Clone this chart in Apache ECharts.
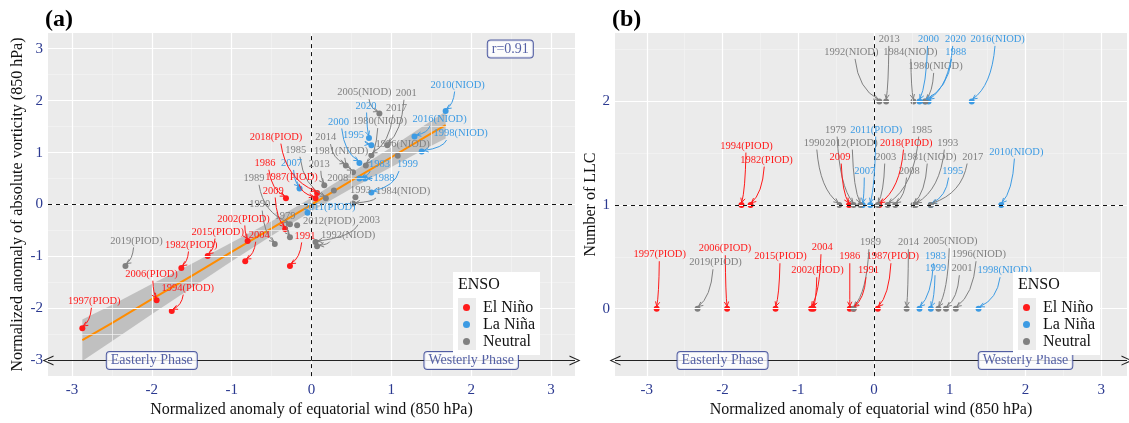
<!DOCTYPE html>
<html>
<head>
<meta charset="utf-8">
<script src="https://cdn.jsdelivr.net/npm/echarts@6/dist/echarts.min.js"></script>
<style>
  html, body { margin: 0; background: #fff; }
  #chart { width: 1129px; height: 423px; }
</style>
</head>
<body>
<div id="chart"></div>
<script>
// ---- data ----
const years = [1979, 1980, 1981, 1982, 1983, 1984, 1985, 1986, 1987, 1988,
  1989, 1990, 1991, 1992, 1993, 1994, 1995, 1996, 1997, 1998,
  1999, 2000, 2001, 2002, 2003, 2004, 2005, 2006, 2007, 2008,
  2009, 2010, 2011, 2012, 2013, 2014, 2015, 2016, 2017, 2018, 2019, 2020]
// normalized anomaly of equatorial wind (x in both panels)
const windX = [-0.27, 0.68, 0.52, -1.63, 0.60, 0.52, 0.18, -0.32, 0.05, 0.67,
  -0.27, -0.46, -0.27, 0.07, 0.55, -1.75, 0.75, 1.08, -2.87, 1.38,
  0.75, 0.60, 0.95, -0.80, 0.05, -0.83, 0.85, -1.94, -0.15, 0.28,
  -0.33, 1.68, -0.05, -0.18, 0.16, 0.43, -1.30, 1.29, 0.75, 0.07, -2.33, 0.72]
// normalized anomaly of absolute vorticity (panel a)
const vortY = [-0.63, 0.75, 0.62, -1.22, 0.50, 0.02, 0.12, 0.12, 0.12, 0.50,
  -0.38, -0.76, -1.18, -0.80, 0.14, -2.05, 1.14, 0.94, -2.38, 1.02,
  0.23, 0.80, 1.14, -0.70, -0.72, -1.09, 1.75, -1.84, 0.31, 0.27,
  -0.47, 1.80, -0.16, -0.40, 0.37, 0.75, -0.99, 1.31, 0.95, 0.22, -1.18, 1.28]
// number of LLC (panel b)
const llcCount = [1, 2, 1, 1, 0, 2, 1, 0, 0, 2,
  0, 1, 0, 2, 1, 1, 1, 0, 0, 0,
  0, 2, 0, 0, 1, 0, 0, 0, 1, 1,
  1, 1, 1, 1, 2, 0, 0, 2, 1, 1, 0, 2]
const ensoPhase = ['Neutral', 'Neutral', 'Neutral', 'El Niño', 'La Niña', 'Neutral', 'Neutral', 'El Niño', 'El Niño', 'La Niña',
  'Neutral', 'Neutral', 'El Niño', 'Neutral', 'Neutral', 'El Niño', 'La Niña', 'Neutral', 'El Niño', 'La Niña',
  'La Niña', 'La Niña', 'Neutral', 'El Niño', 'Neutral', 'El Niño', 'Neutral', 'El Niño', 'La Niña', 'Neutral',
  'El Niño', 'La Niña', 'La Niña', 'Neutral', 'Neutral', 'Neutral', 'El Niño', 'La Niña', 'Neutral', 'El Niño', 'Neutral', 'La Niña']
const iodPhase = ['', 'NIOD', 'NIOD', 'PIOD', '', 'NIOD', '', '', 'PIOD', '',
  '', '', '', 'NIOD', '', 'PIOD', '', 'NIOD', 'PIOD', 'NIOD',
  '', '', '', 'PIOD', '', '', 'NIOD', 'PIOD', '', '',
  '', 'NIOD', 'PIOD', 'PIOD', '', '', 'PIOD', 'NIOD', '', 'PIOD', 'PIOD', '']
const ensoNames = ['El Niño', 'La Niña', 'Neutral']

// fitted line and its confidence band (panel a)
const fitX = [-2.87, -2.5, -2, -1.5, -1, -0.5, 0, 0.5, 1, 1.5, 1.68]
const fitY = [-2.61, -2.28, -1.82, -1.37, -0.91, -0.46, 0, 0.46, 0.91, 1.37, 1.53]
const bandLo = [-3.01, -2.63, -2.11, -1.6, -1.09, -0.6, -0.13, 0.31, 0.72, 1.13, 1.27]
const bandHi = [-2.21, -1.93, -1.53, -1.14, -0.73, -0.32, 0.13, 0.61, 1.1, 1.61, 1.79]

const ticksX = [-3, -2, -1, 0, 1, 2, 3]
const ticksYa = [-3, -2, -1, 0, 1, 2, 3]
const ticksYb = [0, 1, 2]

// ---- layout (label offsets in px from each point) ----
const offA = {
  1979: [-5, -21], 1980: [14, -44], 1981: [-12, -21], 1982: [10, -23], 1983: [20, -14],
  1984: [50, -12], 1985: [-30, -48], 1986: [-21, -35], 1987: [-24, -21], 1988: [19, 0],
  1989: [-36, -46], 1990: [-15, -40], 1991: [15, -30], 1992: [31, -11], 1993: [5, -7],
  1994: [16, -23], 1995: [-18, -10], 1996: [5, -11], 1997: [12, -27], 1998: [39, -18],
  1999: [36, -28], 2000: [-21, -41], 2001: [19, -52], 2002: [-4, -22], 2003: [54, -22],
  2004: [14, -26], 2005: [-15, -21], 2006: [-5, -26], 2007: [-8, -25], 2008: [4, -12],
  2009: [-12, -38], 2010: [12, -26], 2011: [22, -6], 2012: [32, -4], 2013: [-5, -21],
  2014: [-20, -28], 2015: [10, -24], 2016: [25, -17], 2017: [25, -47], 2018: [-41, -56],
  2019: [11, -25], 2020: [-3, -32]
}
const offB = {
  1979: [-18, -75], 1980: [10, -35], 1981: [16, -48], 1982: [16, -45], 1983: [16, -52],
  1984: [-3, -49], 1985: [34, -75], 1986: [0, -52], 1987: [15, -52], 1988: [31, -49],
  1989: [17, -66], 1990: [-25, -62], 1991: [15, -38], 1992: [-28, -49], 1993: [32, -62],
  1994: [5, -59], 1995: [22, -34], 1996: [23, -54], 1997: [3, -54], 1998: [26, -38],
  1999: [5, -40], 2000: [9, -62], 2001: [16, -40], 2002: [4, -38], 2003: [8, -48],
  2004: [11, -61], 2005: [12, -67], 2006: [-2, -60], 2007: [2, -34], 2008: [14, -34],
  2009: [-9, -48], 2010: [15, -53], 2011: [6, -75], 2012: [-9, -62], 2013: [3, -62],
  2014: [2, -66], 2015: [5, -52], 2016: [26, -62], 2017: [42, -48], 2018: [27, -62],
  2019: [18, -46], 2020: [27, -62]
}

const serif = '"Liberation Serif", "DejaVu Serif", serif'
const navy = '#2B3990'
const colors = { 'El Niño': '#FF1A1A', 'La Niña': '#3D9BE3', 'Neutral': '#808080' }
const labelText = years.map((y, i) => iodPhase[i] ? y + '(' + iodPhase[i] + ')' : String(y))
const labelFont = '10.5px ' + serif

const measureCtx = document.createElement('canvas').getContext('2d')
measureCtx.font = labelFont
const textWidth = (s) => measureCtx.measureText(s).width

const chevron = 'path://M0,12 L6,0 L12,12 L10.6,12 L6,2.6 L1.4,12 Z'

const gridLines = (gi, xMajor, xMinor, yMajor, yMinor) => {
  const lines = []
  xMinor.forEach((v) => lines.push({ xAxis: v, lineStyle: { color: '#F4F4F4', width: 0.7, type: 'solid' } }))
  yMinor.forEach((v) => lines.push({ yAxis: v, lineStyle: { color: '#F4F4F4', width: 0.7, type: 'solid' } }))
  xMajor.forEach((v) => lines.push({ xAxis: v, lineStyle: { color: '#FFFFFF', width: 1.2, type: 'solid' } }))
  yMajor.forEach((v) => lines.push({ yAxis: v, lineStyle: { color: '#FFFFFF', width: 1.2, type: 'solid' } }))
  return {
    type: 'line', xAxisIndex: gi, yAxisIndex: gi, z: 1, silent: true,
    data: [[0, 0]], symbol: 'none', lineStyle: { width: 0 },
    markLine: { silent: true, symbol: 'none', label: { show: false }, data: lines },
  }
}

const refLines = (gi, xv, yv) => ({
  type: 'line', xAxisIndex: gi, yAxisIndex: gi, z: 3, silent: true,
  data: [[0, 0]], symbol: 'none', lineStyle: { width: 0 },
  markLine: {
    silent: true, symbol: 'none', label: { show: false },
    lineStyle: { color: '#111', width: 1, type: [4, 4] },
    data: [{ xAxis: xv }, { yAxis: yv }],
  },
})

const phaseArrow = (gi, yv) => ({
  type: 'line', xAxisIndex: gi, yAxisIndex: gi, z: 3, silent: true,
  data: [[0, yv]], symbol: 'none', lineStyle: { width: 0 },
  markLine: {
    silent: true, symbol: [chevron, chevron], symbolSize: [10, 11],
    label: { show: false },
    lineStyle: { color: '#222', width: 1, type: 'solid' },
    data: [{ yAxis: yv }],
  },
})

const boxLabel = (gi, items) => ({
  type: 'scatter', xAxisIndex: gi, yAxisIndex: gi, z: 6, silent: true,
  symbolSize: 1, itemStyle: { color: 'rgba(0,0,0,0)' },
  data: items,
  label: {
    show: true, position: 'inside', formatter: '{b}',
    color: navy, fontFamily: serif, fontSize: 14,
    backgroundColor: '#fff', borderColor: navy, borderWidth: 1, borderRadius: 3,
    padding: [2, 4, 1, 4],
  },
})

const pointSeries = (gi, yVals) => ensoNames.map((name) => ({
  name, type: 'scatter', xAxisIndex: gi, yAxisIndex: gi, z: 4,
  symbolSize: 6, itemStyle: { color: colors[name], opacity: 1 },
  data: years.map((y, i) => [windX[i], yVals[i]]).filter((d, i) => ensoPhase[i] === name),
}))

const labelSeries = (gi, yVals, offs) => ({
  type: 'custom', xAxisIndex: gi, yAxisIndex: gi, z: 5, silent: true,
  data: years.map((y, i) => [windX[i], yVals[i], i]),
  encode: { x: 0, y: 1 },
  renderItem: (params, api) => {
    const i = api.value(2)
    const p = api.coord([api.value(0), api.value(1)])
    const o = offs[years[i]]
    const txt = labelText[i]
    const col = colors[ensoPhase[i]]
    const L = [p[0] + o[0], p[1] + o[1]]
    const hw = textWidth(txt) / 2 + 1
    const hh = 6.5
    const dx = p[0] - L[0]
    const dy = p[1] - L[1]
    const dist = Math.hypot(dx, dy)
    const t = Math.min(dx ? hw / Math.abs(dx) : Infinity, dy ? hh / Math.abs(dy) : Infinity)
    const children = []
    if (t < 1 && dist * (1 - t) > 7) {
      const s = [L[0] + t * dx, L[1] + t * dy]
      const e = [p[0] - 2.5 * dx / dist, p[1] - 2.5 * dy / dist]
      const c = [s[0] + 0.15 * (e[0] - s[0]), s[1] + 0.75 * (e[1] - s[1])]
      let ux = e[0] - c[0]
      let uy = e[1] - c[1]
      const ul = Math.hypot(ux, uy) || 1
      ux /= ul; uy /= ul
      const a = 0.45
      const hl = 5
      const h1 = [e[0] - hl * (ux * Math.cos(a) - uy * Math.sin(a)), e[1] - hl * (ux * Math.sin(a) + uy * Math.cos(a))]
      const h2 = [e[0] - hl * (ux * Math.cos(a) + uy * Math.sin(a)), e[1] - hl * (-ux * Math.sin(a) + uy * Math.cos(a))]
      children.push({
        type: 'bezierCurve',
        shape: { x1: s[0], y1: s[1], x2: e[0], y2: e[1], cpx1: c[0], cpy1: c[1] },
        style: { stroke: col, fill: 'none', lineWidth: 1 },
      })
      children.push({
        type: 'polyline', shape: { points: [h1, e, h2] },
        style: { stroke: col, fill: 'none', lineWidth: 1 },
      })
    }
    children.push({
      type: 'text', x: L[0], y: L[1],
      style: { text: txt, fill: col, font: labelFont, align: 'center', verticalAlign: 'middle' },
    })
    return { type: 'group', children }
  },
})

const bandSeries = {
  type: 'custom', xAxisIndex: 0, yAxisIndex: 0, z: 2, silent: true,
  data: [[0, 0]],
  renderItem: (params, api) => {
    const pts = fitX.map((x, k) => api.coord([x, bandHi[k]]))
    for (let k = fitX.length - 1; k >= 0; k--) pts.push(api.coord([fitX[k], bandLo[k]]))
    return { type: 'polygon', shape: { points: pts }, style: { fill: 'rgba(150,150,150,0.5)' } }
  },
}

const fitSeries = {
  type: 'line', xAxisIndex: 0, yAxisIndex: 0, z: 2, silent: true,
  data: fitX.map((x, k) => [x, fitY[k]]), symbol: 'none',
  lineStyle: { color: '#FF8C00', width: 2 },
}

const axisCommon = {
  type: 'value',
  splitLine: { show: false },
  axisLine: { show: false },
  nameLocation: 'middle',
  nameTextStyle: { fontFamily: serif, fontSize: 16, color: '#111' },
}

const xAxis = (gi, min, max) => ({
  ...axisCommon, gridIndex: gi, min, max,
  name: 'Normalized anomaly of equatorial wind (850 hPa)', nameGap: 20,
  axisTick: { show: true, length: 3, lineStyle: { color: '#333' }, customValues: ticksX },
  axisLabel: { customValues: ticksX, color: navy, fontFamily: serif, fontSize: 15, margin: 6 },
})

const yAxis = (gi, min, max, ticks, name, gap) => ({
  ...axisCommon, gridIndex: gi, min, max, name, nameGap: gap,
  axisTick: { show: true, length: 3, lineStyle: { color: '#333' }, customValues: ticks },
  axisLabel: { customValues: ticks, color: navy, fontFamily: serif, fontSize: 15, margin: 5 },
})

const legend = (left) => ({
  data: ensoNames, orient: 'vertical', left: left, top: 299, padding: 0,
  icon: 'circle', itemWidth: 7, itemHeight: 7, itemGap: 0, z: 12,
  selectedMode: false,
  textStyle: { fontFamily: serif, fontSize: 16, color: '#111', lineHeight: 17, padding: [0, 0, 0, 8] },
})

const legendBox = (left) => [
  { type: 'rect', z: 10, silent: true, shape: { x: left, y: 272, width: 87, height: 83 }, style: { fill: '#fff' } },
  { type: 'rect', z: 11, silent: true, shape: { x: left + 5, y: 298, width: 18, height: 52 }, style: { fill: '#EBEBEB' } },
]

const chart = echarts.init(document.getElementById('chart'))
chart.setOption({
  animation: false,
  backgroundColor: '#fff',
  title: [
    { text: '(a)', left: 40, top: 3, z: 12, textStyle: { fontFamily: serif, fontWeight: 'bold', fontSize: 24, color: '#000' } },
    { text: '(b)', left: 607, top: 3, z: 12, textStyle: { fontFamily: serif, fontWeight: 'bold', fontSize: 24, color: '#000' } },
    { text: 'ENSO', left: 453, top: 272, z: 12, textStyle: { fontFamily: serif, fontWeight: 'normal', fontSize: 16, color: '#111' } },
    { text: 'ENSO', left: 1013, top: 272, z: 12, textStyle: { fontFamily: serif, fontWeight: 'normal', fontSize: 16, color: '#111' } },
  ],
  grid: [
    { left: 48, top: 33, width: 527, height: 349, show: true, backgroundColor: '#EBEBEB', borderWidth: 0 },
    { left: 615, top: 33, width: 512, height: 350, show: true, backgroundColor: '#EBEBEB', borderWidth: 0 },
  ],
  xAxis: [xAxis(0, -3.3, 3.3), xAxis(1, -3.42, 3.34)],
  yAxis: [
    yAxis(0, -3.3, 3.3, ticksYa, 'Normalized anomaly of absolute vorticity (850 hPa)', 22),
    yAxis(1, -0.65, 2.66, ticksYb, 'Number of LLC', 15),
  ],
  legend: [legend(463), legend(1023)],
  graphic: { elements: [...legendBox(453), ...legendBox(1013)] },
  series: [
    gridLines(0, ticksX, [-2.5, -1.5, -0.5, 0.5, 1.5, 2.5], ticksYa, [-2.5, -1.5, -0.5, 0.5, 1.5, 2.5]),
    gridLines(1, ticksX, [-2.5, -1.5, -0.5, 0.5, 1.5, 2.5], ticksYb, [-0.5, 0.5, 1.5, 2.5]),
    bandSeries,
    fitSeries,
    refLines(0, 0, 0),
    refLines(1, 0, 1),
    phaseArrow(0, -3),
    phaseArrow(1, -0.5),
    ...pointSeries(0, vortY),
    ...pointSeries(1, llcCount),
    labelSeries(0, vortY, offA),
    labelSeries(1, llcCount, offB),
    boxLabel(0, [
      { name: 'Easterly Phase', value: [-2, -3] },
      { name: 'Westerly Phase', value: [2, -3] },
      { name: 'r=0.91', value: [2.49, 2.99] },
    ]),
    boxLabel(1, [
      { name: 'Easterly Phase', value: [-2, -0.5] },
      { name: 'Westerly Phase', value: [2, -0.5] },
    ]),
  ],
})
</script>
</body>
</html>
